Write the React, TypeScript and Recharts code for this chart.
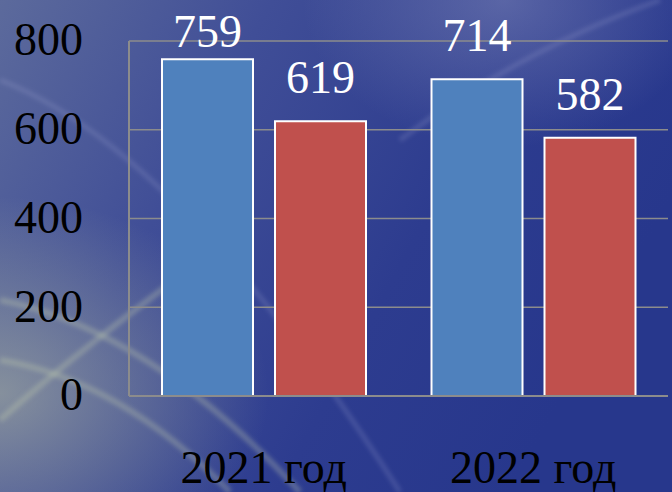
import { BarChart, Bar, XAxis, YAxis, CartesianGrid, LabelList } from "recharts";

const categories = ["2021 год", "2022 год"];
const seriesA = [759, 714];
const seriesB = [619, 582];
const yTicks = [0, 200, 400, 600, 800];

const data = categories.map((name, i) => ({ name, a: seriesA[i], b: seriesB[i] }));

const FONT = "'Liberation Serif', 'Times New Roman', serif";

// Excel keeps labels inside the chart area, so clamp them near the top
const TopLabel = (props: any) => {
  const { x, y, width, value } = props;
  const base = Math.max(y - 28, 47);
  return (
    <text x={x + width / 2} y={base} textAnchor="middle" fill="#fff" fontSize={46} fontFamily={FONT}>
      {value}
    </text>
  );
};

const Backdrop = () => (
  <svg width={672} height={492} style={{ position: "absolute", left: 0, top: 0 }}>
    <defs>
      <linearGradient id="bg" x1="0" y1="0" x2="1" y2="0.4">
        <stop offset="0" stopColor="#5c6a9c" />
        <stop offset="0.35" stopColor="#404e97" />
        <stop offset="0.7" stopColor="#2d3c8f" />
        <stop offset="1" stopColor="#27378c" />
      </linearGradient>
      <radialGradient id="glow" cx="0.0" cy="0.8" r="0.4">
        <stop offset="0" stopColor="#b0b8a0" stopOpacity="0.6" />
        <stop offset="1" stopColor="#b0b8a0" stopOpacity="0" />
      </radialGradient>
      <radialGradient id="glow2" cx="0.75" cy="0" r="0.3">
        <stop offset="0" stopColor="#8d94c0" stopOpacity="0.45" />
        <stop offset="1" stopColor="#8d94c0" stopOpacity="0" />
      </radialGradient>
      <filter id="soft">
        <feGaussianBlur stdDeviation="2" />
      </filter>
    </defs>
    <rect width={672} height={492} fill="url(#bg)" />
    <rect width={672} height={492} fill="url(#glow)" />
    <rect width={672} height={492} fill="url(#glow2)" />
    <g stroke="#c8d0b0" strokeOpacity={0.3} fill="none" strokeWidth={6} filter="url(#soft)">
      <path d="M0 300 Q150 330 300 492" />
      <path d="M0 360 Q120 380 230 492" />
      <path d="M0 420 Q90 340 230 240" />
    </g>
    <g stroke="#a8b0d8" strokeOpacity={0.2} fill="none" strokeWidth={5} filter="url(#soft)">
      <path d="M400 140 Q520 50 660 0" />
      <path d="M0 80 Q180 150 400 492" />
    </g>
  </svg>
);

export default function App() {
  return (
    <div style={{ position: "fixed", left: 0, top: 0, width: 672, height: 492, overflow: "hidden" }}>
      <Backdrop />
      <div style={{ position: "absolute", left: 0, top: 0 }}>
        <BarChart
          width={672}
          height={492}
          data={data}
          margin={{ top: 41, right: 4, left: 0, bottom: 0 }}
          barCategoryGap={33}
          barGap={22}
        >
          <CartesianGrid vertical={false} stroke="#8c8c8c" strokeWidth={1.5} />
          <XAxis
            dataKey="name"
            height={96}
            tickLine={false}
            tickSize={0}
            tickMargin={54}
            axisLine={{ stroke: "#8c8c8c", strokeWidth: 2 }}
            tick={{ fill: "#000", fontSize: 46, fontFamily: FONT }}
          />
          <YAxis
            width={129}
            domain={[0, 800]}
            ticks={yTicks}
            tickLine={false}
            tickSize={0}
            tickMargin={46}
            axisLine={{ stroke: "#8c8c8c", strokeWidth: 2 }}
            tick={{ fill: "#000", fontSize: 46, fontFamily: FONT, dy: -2 }}
          />
          <Bar dataKey="a" fill="#4f81bd" stroke="#fff" strokeWidth={2} isAnimationActive={false}>
            <LabelList dataKey="a" content={TopLabel} />
          </Bar>
          <Bar dataKey="b" fill="#c0504d" stroke="#fff" strokeWidth={2} isAnimationActive={false}>
            <LabelList dataKey="b" content={TopLabel} />
          </Bar>
        </BarChart>
      </div>
    </div>
  );
}
